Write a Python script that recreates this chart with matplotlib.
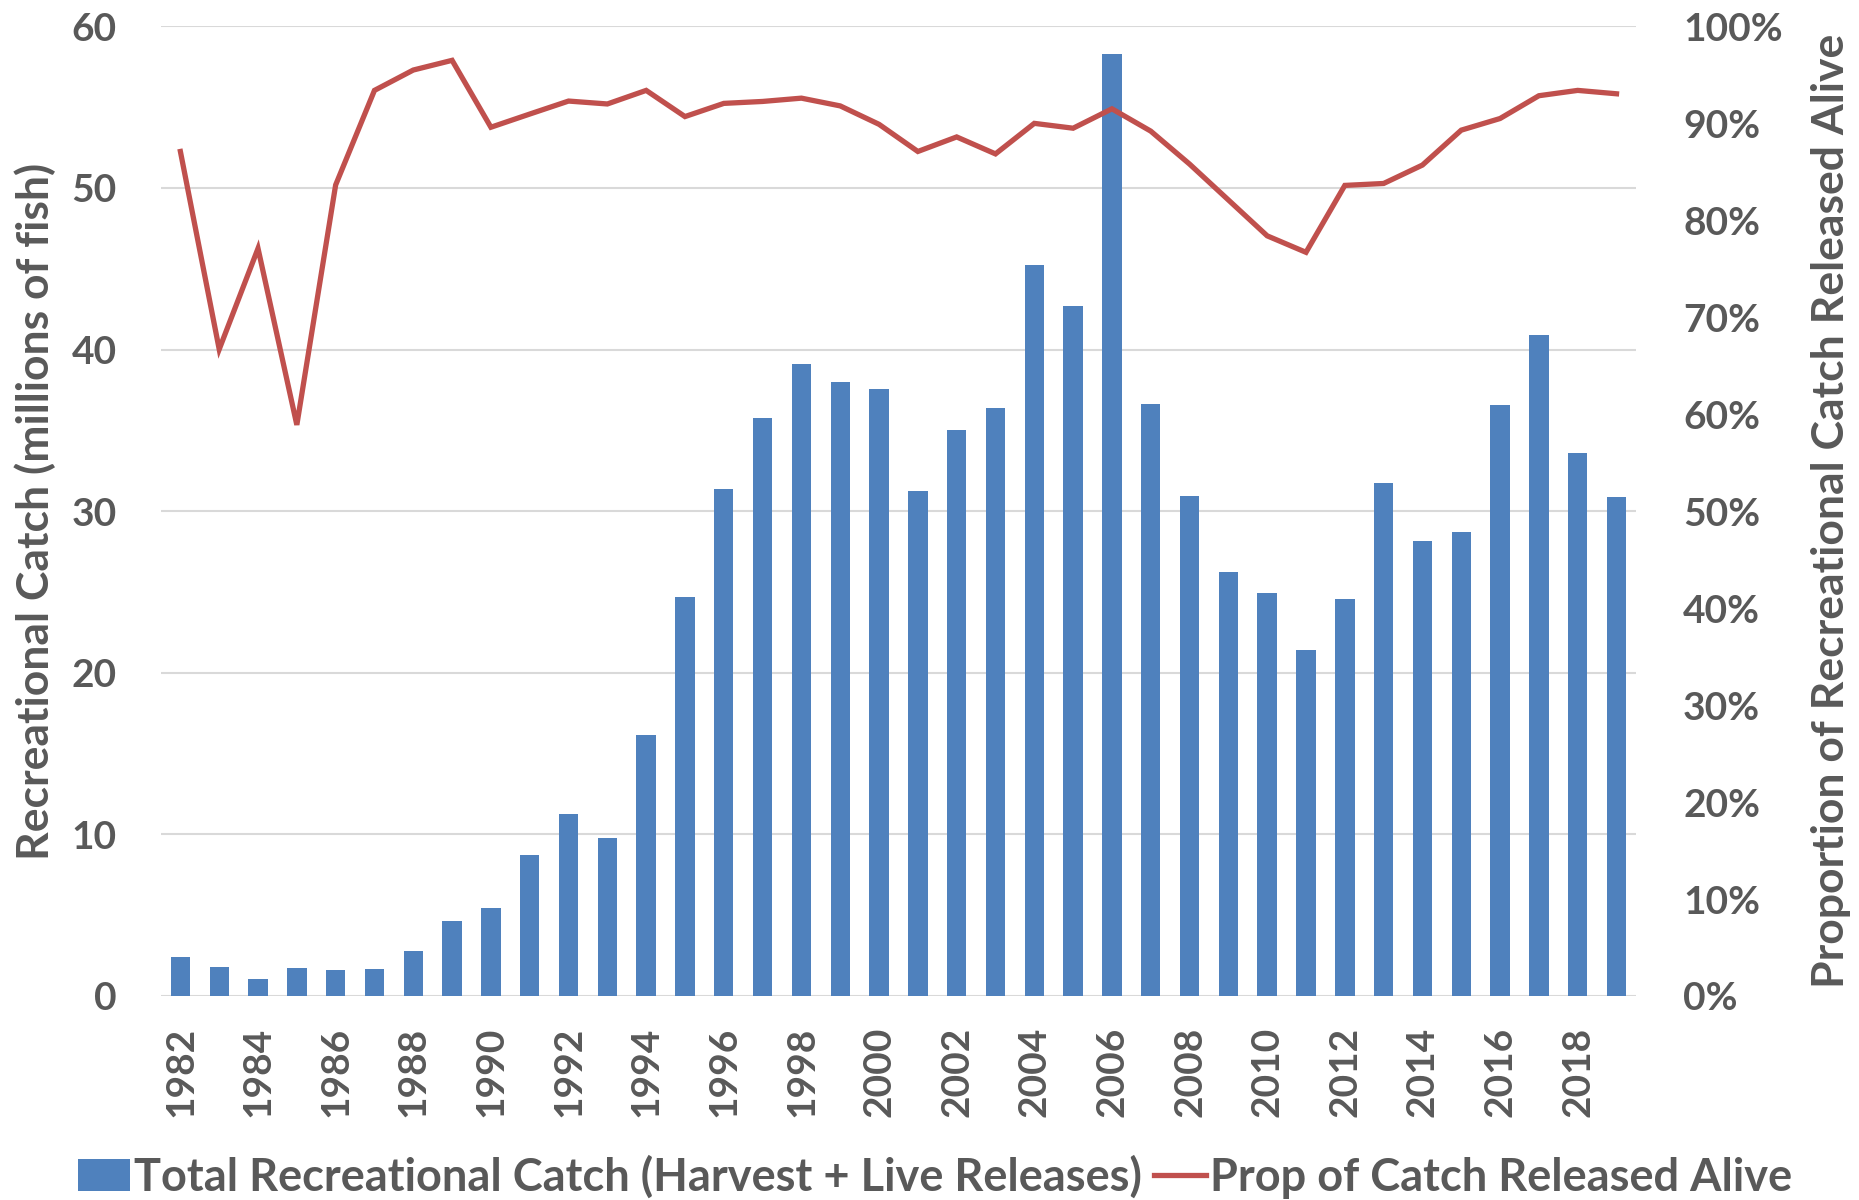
import matplotlib
matplotlib.use("Agg")
import matplotlib.pyplot as plt
from matplotlib.ticker import FuncFormatter, MultipleLocator
from matplotlib.lines import Line2D
from matplotlib.patches import Patch

years = list(range(1982, 2020))
total_catch = [2.39, 1.80, 1.08, 1.72, 1.58, 1.66, 2.77, 4.63, 5.44, 8.71,
               11.27, 9.80, 16.18, 24.68, 31.35, 35.76, 39.08, 37.99, 37.58, 31.26,
               35.00, 36.40, 45.26, 42.68, 58.32, 36.64, 30.92, 26.26, 24.93, 21.41,
               24.57, 31.73, 28.17, 28.70, 36.60, 40.90, 33.63, 30.85]
prop_released = [87.1, 66.7, 77.1, 58.9, 83.65, 93.4, 95.5, 96.5, 89.6, 90.96,
                 92.3, 92.0, 93.4, 90.7, 92.06, 92.26, 92.6, 91.8, 89.9, 87.1,
                 88.6, 86.85, 90.0, 89.5, 91.5, 89.2, 85.8, 82.1, 78.4, 76.7,
                 83.6, 83.8, 85.7, 89.3, 90.5, 92.85, 93.4, 93.05]

bar_label = "Total Recreational Catch (Harvest + Live Releases)"
line_label = "Prop of Catch Released Alive"
left_ylabel = "Recreational Catch (millions of fish)"
right_ylabel = "Proportion of Recreational Catch Released Alive"

BLUE = "#4F81BD"
RED = "#C0504D"
GRAY = "#595959"
GRID = "#D9D9D9"

plt.rcParams['font.family'] = ['Lato', 'DejaVu Sans']
plt.rcParams['font.weight'] = 'bold'
plt.rcParams['axes.labelweight'] = 'bold'

fig = plt.figure(figsize=(18.59, 12), dpi=100)
ax = fig.add_axes([0.0866, 0.17, 0.7934, 0.808])
ax2 = ax.twinx()

x = list(range(len(years)))
ax.bar(x, total_catch, width=0.5, color=BLUE, zorder=2)
ax2.plot(x, prop_released, color=RED, lw=3.8, zorder=3, solid_joinstyle='miter')

ax.set_xlim(-0.5, len(years) - 0.5)
ax.set_ylim(0, 60)
ax2.set_ylim(0, 100)
ax.yaxis.set_major_locator(MultipleLocator(10))
ax2.yaxis.set_major_locator(MultipleLocator(10))
ax2.yaxis.set_major_formatter(FuncFormatter(lambda v, p: f"{int(round(v))}%"))

ax.set_xticks(x[::2])
ax.set_xticklabels([str(y) for y in years[::2]], rotation=90)

ax.grid(axis='y', color=GRID, lw=1.5, zorder=0)
ax.set_axisbelow(True)
for a in (ax, ax2):
    for s in a.spines.values():
        s.set_visible(False)
    a.tick_params(length=0, colors=GRAY, labelsize=28)
ax.tick_params(axis='y', pad=32)
ax2.tick_params(axis='y', pad=34)
ax.tick_params(axis='x', pad=22)

ax.set_ylabel(left_ylabel, fontsize=32, color=GRAY, fontweight='bold', labelpad=11)
ax2.set_ylabel(right_ylabel, fontsize=32, color=GRAY, fontweight='bold', labelpad=20)

handles = [Patch(facecolor=BLUE, label=bar_label),
           Line2D([0], [0], color=RED, lw=3.8, label=line_label)]
leg = fig.legend(handles=handles, loc='center', bbox_to_anchor=(0.503, 0.019),
                 ncol=2, frameon=False, prop={'size': 32.5, 'weight': 'bold'},
                 handlelength=1.15, handletextpad=0.1, columnspacing=0.25,
                 labelcolor=GRAY)

fig.savefig("out.png", dpi=100)
